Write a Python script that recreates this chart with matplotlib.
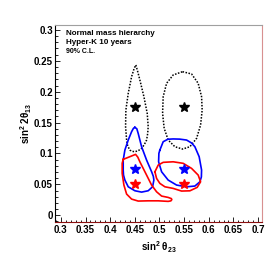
import matplotlib
matplotlib.use("Agg")
import matplotlib.pyplot as plt
from matplotlib.ticker import MultipleLocator, FuncFormatter
import numpy as np

plt.rcParams['font.family'] = ['Liberation Sans', 'DejaVu Sans']
plt.rcParams['font.weight'] = 'bold'
plt.rcParams['mathtext.default'] = 'regular'

# punkty prawdziwe (gwiazdki)
gwiazdy_x = [0.45, 0.55]
gwiazdy_czarne_y = [0.175, 0.175]
gwiazdy_niebieskie_y = [0.075, 0.075]
gwiazdy_czerwone_y = [0.05, 0.05]

# kontury 90% C.L.
czarny_lewy_x = [0.4521, 0.4560, 0.4602, 0.4684, 0.4751, 0.4771, 0.4760, 0.4738, 0.4690,
                 0.4637, 0.4570, 0.4501, 0.4440, 0.4400, 0.4355, 0.4333, 0.4312, 0.4318,
                 0.4366, 0.4434, 0.4487]
czarny_lewy_y = [0.2433, 0.2320, 0.2190, 0.1919, 0.1650, 0.1433, 0.1320, 0.1217, 0.1140,
                 0.1083, 0.1045, 0.1028, 0.1035, 0.1055, 0.1120, 0.1217, 0.1433, 0.1703,
                 0.1974, 0.2243, 0.2379]

czarny_prawy_x = [0.5468, 0.5651, 0.5785, 0.5854, 0.5866, 0.5834, 0.5753, 0.5617,
                  0.5468, 0.5312, 0.5177, 0.5095, 0.5063, 0.5075, 0.5144, 0.5278]
czarny_prawy_y = [0.2324, 0.2287, 0.2136, 0.1919, 0.1703, 0.1460, 0.1245, 0.1109,
                  0.1071, 0.1109, 0.1217, 0.1407, 0.1650, 0.1919, 0.2136, 0.2271]

niebieski_lewy_x = [0.4501, 0.4540, 0.4568, 0.4637, 0.4738, 0.4840, 0.4875, 0.4886, 0.4860,
                    0.4771, 0.4637, 0.4501, 0.4366, 0.4298, 0.4270, 0.4264, 0.4264, 0.4298,
                    0.4366, 0.4434, 0.4470]
niebieski_lewy_y = [0.1423, 0.1400, 0.1325, 0.1109, 0.0893, 0.0704, 0.0630, 0.0569, 0.0460,
                    0.0396, 0.0374, 0.0396, 0.0460, 0.0569, 0.0650, 0.0731, 0.0893, 0.1055,
                    0.1217, 0.1352, 0.1405]

niebieski_prawy_x = [0.5008, 0.5075, 0.5170, 0.5278, 0.5410, 0.5550, 0.5650, 0.5718, 0.5805,
                     0.5854, 0.5850, 0.5820, 0.5718, 0.5550, 0.5347, 0.5176, 0.5043, 0.4982,
                     0.4988]
niebieski_prawy_y = [0.1055, 0.1190, 0.1230, 0.1235, 0.1232, 0.1217, 0.1170, 0.1109, 0.0947,
                     0.0731, 0.0620, 0.0541, 0.0472, 0.0460, 0.0488, 0.0569, 0.0703, 0.0865,
                     0.1002]

czerwony_lewy_x = [0.4264, 0.4515, 0.4560, 0.4602, 0.4738, 0.4840, 0.4941, 0.5043, 0.5176,
                   0.5241, 0.5250, 0.5231, 0.5176, 0.4974, 0.4771, 0.4568, 0.4434, 0.4333,
                   0.4278, 0.4243, 0.4243]
czerwony_lewy_y = [0.0904, 0.0985, 0.0940, 0.0865, 0.0650, 0.0488, 0.0379, 0.0310, 0.0288,
                   0.0269, 0.0252, 0.0232, 0.0224, 0.0233, 0.0233, 0.0229, 0.0261, 0.0342,
                   0.0488, 0.0677, 0.0840]

czerwony_prawy_x = [0.4907, 0.4974, 0.5075, 0.5278, 0.5481, 0.5651, 0.5785, 0.5834,
                    0.5765, 0.5617, 0.5448, 0.5278, 0.5110, 0.5008, 0.4941]
czerwony_prawy_y = [0.0703, 0.0812, 0.0856, 0.0865, 0.0840, 0.0758, 0.0650, 0.0541,
                    0.0451, 0.0395, 0.0391, 0.0434, 0.0460, 0.0515, 0.0596]


def zamknij(xs, ys):
    # domknij kontur
    return np.append(xs, xs[0]), np.append(ys, ys[0])


fig = plt.figure(figsize=(2.76, 2.62), dpi=100)
ax = fig.add_axes([55 / 276, 40 / 262, 207 / 276, 197 / 262])

kropki = (0, (1.0, 1.0))
for xs, ys in [(czarny_lewy_x, czarny_lewy_y), (czarny_prawy_x, czarny_prawy_y)]:
    x, y = zamknij(xs, ys)
    ax.plot(x, y, color="black", linestyle=kropki, linewidth=1.1)
for xs, ys in [(niebieski_lewy_x, niebieski_lewy_y), (niebieski_prawy_x, niebieski_prawy_y)]:
    x, y = zamknij(xs, ys)
    ax.plot(x, y, color="#0000ff", linewidth=1.2, solid_joinstyle="round")
for xs, ys in [(czerwony_lewy_x, czerwony_lewy_y), (czerwony_prawy_x, czerwony_prawy_y)]:
    x, y = zamknij(xs, ys)
    ax.plot(x, y, color="#ff0000", linewidth=1.2, solid_joinstyle="round")

ax.plot(gwiazdy_x, gwiazdy_czarne_y, linestyle="none", marker="*", color="black", markersize=7)
ax.plot(gwiazdy_x, gwiazdy_niebieskie_y, linestyle="none", marker="*", color="#0000ff", markersize=7)
ax.plot(gwiazdy_x, gwiazdy_czerwone_y, linestyle="none", marker="*", color="#ff0000", markersize=7)

ax.set_xlim(0.288, 0.708)
ax.set_ylim(-0.011, 0.308)

ax.xaxis.set_major_locator(MultipleLocator(0.05))
ax.xaxis.set_minor_locator(MultipleLocator(0.01))
ax.yaxis.set_major_locator(MultipleLocator(0.05))
ax.yaxis.set_minor_locator(MultipleLocator(0.01))
formatka = FuncFormatter(lambda v, p: "%g" % round(v, 3))
ax.xaxis.set_major_formatter(formatka)
ax.yaxis.set_major_formatter(formatka)

ax.tick_params(which="both", direction="in", top=False, right=False, width=0.6, labelsize=7)
ax.tick_params(which="major", length=3.6, pad=2)
ax.tick_params(which="minor", length=1.8)
ax.tick_params(axis="y", pad=1.5)

ax.spines["left"].set_color("black")
ax.spines["bottom"].set_color("#8b1010")
ax.spines["top"].set_color("#a0a0a0")
ax.spines["right"].set_color("#d89090")
for s in ax.spines.values():
    s.set_linewidth(0.8)

ax.set_xlabel("sin$^{2}$ θ$_{23}$", fontsize=7, fontweight="bold")
ax.xaxis.set_label_coords(0.5, -0.09)
ax.set_ylabel("sin$^{2}$ 2θ$_{13}$", fontsize=7, fontweight="bold")
ax.yaxis.set_label_coords(-0.1, 0.5)

ax.text(0.053, 0.958, "Normal mass hierarchy", transform=ax.transAxes,
        fontsize=5.8, fontweight="bold", va="center", ha="left")
ax.text(0.053, 0.912, "Hyper-K 10 years", transform=ax.transAxes,
        fontsize=5.8, fontweight="bold", va="center", ha="left")
ax.text(0.053, 0.865, "90% C.L.", transform=ax.transAxes,
        fontsize=5.0, fontweight="bold", va="center", ha="left")

fig.savefig("out.png", dpi=100)
